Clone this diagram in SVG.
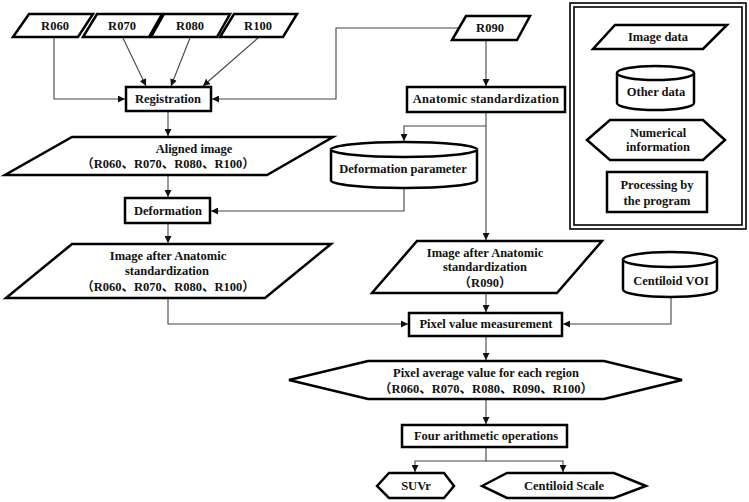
<svg xmlns="http://www.w3.org/2000/svg" width="749" height="502" viewBox="0 0 749 502">
<defs>
<style>
.s{fill:#fff;stroke:#000;stroke-width:2.5;stroke-linejoin:miter}
.c{fill:none;stroke:#444;stroke-width:1.1}
.t{font-family:"Liberation Serif","Noto Sans CJK SC",serif;font-weight:bold;font-size:12.5px;fill:#111;text-anchor:middle;dominant-baseline:central}
.lb{fill:none;stroke:#000;stroke-width:1.6}
</style>
<marker id="ah" markerUnits="userSpaceOnUse" markerWidth="8" markerHeight="7" refX="7" refY="3.5" orient="auto">
<path d="M0,0 L7,3.5 L0,7 z" fill="#111"/>
</marker>
</defs>
<rect width="749" height="502" fill="#fff"/>

<g id="connectors" class="c" marker-end="url(#ah)">
<path d="M54,37 V99 H125"/>
<path d="M123,38 L146,86"/>
<path d="M190,38 L171,86"/>
<path d="M258,38 L203,86"/>
<path d="M458,28 H336 V99 H212"/>
<path d="M486,40 V86"/>
<path d="M168,112 V136"/>
<path d="M486,113 V240"/>
<path d="M486,126 H404 V141"/>
<path d="M168,176 V197"/>
<path d="M404,188 V211 H211"/>
<path d="M168,224 V243"/>
<path d="M168,298 V324 H408"/>
<path d="M486,293 V312"/>
<path d="M671,297 V324 H563"/>
<path d="M486,337 V360"/>
<path d="M486,399 V424"/>
<path d="M486,448 V461 H415 V472"/>
<path d="M486,461 H563 V472"/>
</g>

<g id="R060"><polygon class="s" points="29,14 93,14 78,37 13,37"/><text class="t" x="55" y="26">R060</text></g>
<g id="R070"><polygon class="s" points="97,14 162,14 149,37 83,37"/><text class="t" x="122" y="26">R070</text></g>
<g id="R080"><polygon class="s" points="164,14 230,14 217,37 151,37"/><text class="t" x="190" y="26">R080</text></g>
<g id="R100"><polygon class="s" points="234,14 297,14 283,37 220,37"/><text class="t" x="258" y="26">R100</text></g>
<g id="R090"><polygon class="s" points="466,16 530,16 517,40 452,40"/><text class="t" x="490" y="28">R090</text></g>

<g id="registration"><rect class="s" x="126" y="87" width="85" height="24"/><text class="t" x="168" y="99">Registration</text></g>
<g id="anatomic"><rect class="s" x="407" y="87" width="158" height="25"/><text class="t" x="486" y="99" letter-spacing="0.3">Anatomic standardization</text></g>

<g id="aligned"><polygon class="s" points="72,137 333,137 267,175 5,175"/>
<text class="t" x="194" y="149">Aligned image</text>
<text class="t" x="168" y="164">（R060、R070、R080、R100）</text></g>

<g id="deformation-parameter">
<path class="s" d="M331,149.5 A73,7.5 0 0 1 477,149.5 V180.5 A73,7.5 0 0 1 331,180.5 Z"/>
<path class="s" fill="none" d="M331,149.5 A73,7.5 0 0 0 477,149.5"/>
<text class="t" x="403" y="169">Deformation parameter</text></g>

<g id="deformation"><rect class="s" x="125" y="198" width="85" height="25"/><text class="t" x="168" y="211">Deformation</text></g>

<g id="image-after-left"><polygon class="s" points="72,244 331,244 265,298 6,298"/>
<text class="t" x="168" y="256">Image after Anatomic</text>
<text class="t" x="167" y="271">standardization</text>
<text class="t" x="168" y="287">（R060、R070、R080、R100）</text></g>

<g id="image-after-r090"><polygon class="s" points="417,241 602,241 557,293 372,293"/>
<text class="t" x="485" y="253">Image after Anatomic</text>
<text class="t" x="485" y="267">standardization</text>
<text class="t" x="485" y="283">（R090）</text></g>

<g id="centiloid-voi">
<path class="s" d="M623,259.5 A47,7.5 0 0 1 717,259.5 V289.5 A47,7.5 0 0 1 623,289.5 Z"/>
<path class="s" fill="none" d="M623,259.5 A47,7.5 0 0 0 717,259.5"/>
<text class="t" x="671" y="281">Centiloid VOI</text></g>

<g id="pixel-value"><rect class="s" x="409" y="313" width="153" height="23"/><text class="t" x="486" y="324">Pixel value measurement</text></g>

<g id="pixel-average"><polygon class="s" points="289,380 368,361 604,361 682,380 604,399 368,399"/>
<text class="t" x="486" y="373">Pixel average value for each region</text>
<text class="t" x="486" y="389">（R060、R070、R080、R090、R100）</text></g>

<g id="four-ops"><rect class="s" x="402" y="425" width="165" height="22"/><text class="t" x="486" y="436">Four arithmetic operations</text></g>

<g id="suvr"><polygon class="s" points="377,486 389,473 444,473 454,486 444,498 389,498"/><text class="t" x="416" y="486">SUVr</text></g>
<g id="centiloid-scale"><polygon class="s" points="482,486 507,473 614,473 646,486 614,498 507,498"/><text class="t" x="564" y="486">Centiloid Scale</text></g>

<g id="legend">
<rect class="lb" x="570" y="3" width="176" height="226"/>
<rect class="lb" x="574" y="7" width="168" height="218"/>
<g id="legend-image"><polygon class="s" points="615,25 727,25 703,49 593,49"/><text class="t" x="658" y="37">Image data</text></g>
<g id="legend-other">
<path class="s" d="M617,73 A38.5,7 0 0 1 694,73 V103 A38.5,7 0 0 1 617,103 Z"/>
<path class="s" fill="none" d="M617,73 A38.5,7 0 0 0 694,73"/>
<text class="t" x="656" y="92">Other data</text></g>
<g id="legend-numerical"><polygon class="s" points="587,140 610,120 703,120 725,140 703,160 610,160"/>
<text class="t" x="658" y="133">Numerical</text><text class="t" x="658" y="147">information</text></g>
<g id="legend-processing"><rect class="s" x="607" y="172" width="100" height="40"/>
<text class="t" x="657" y="185">Processing by</text><text class="t" x="657" y="201">the program</text></g>
</g>
</svg>
